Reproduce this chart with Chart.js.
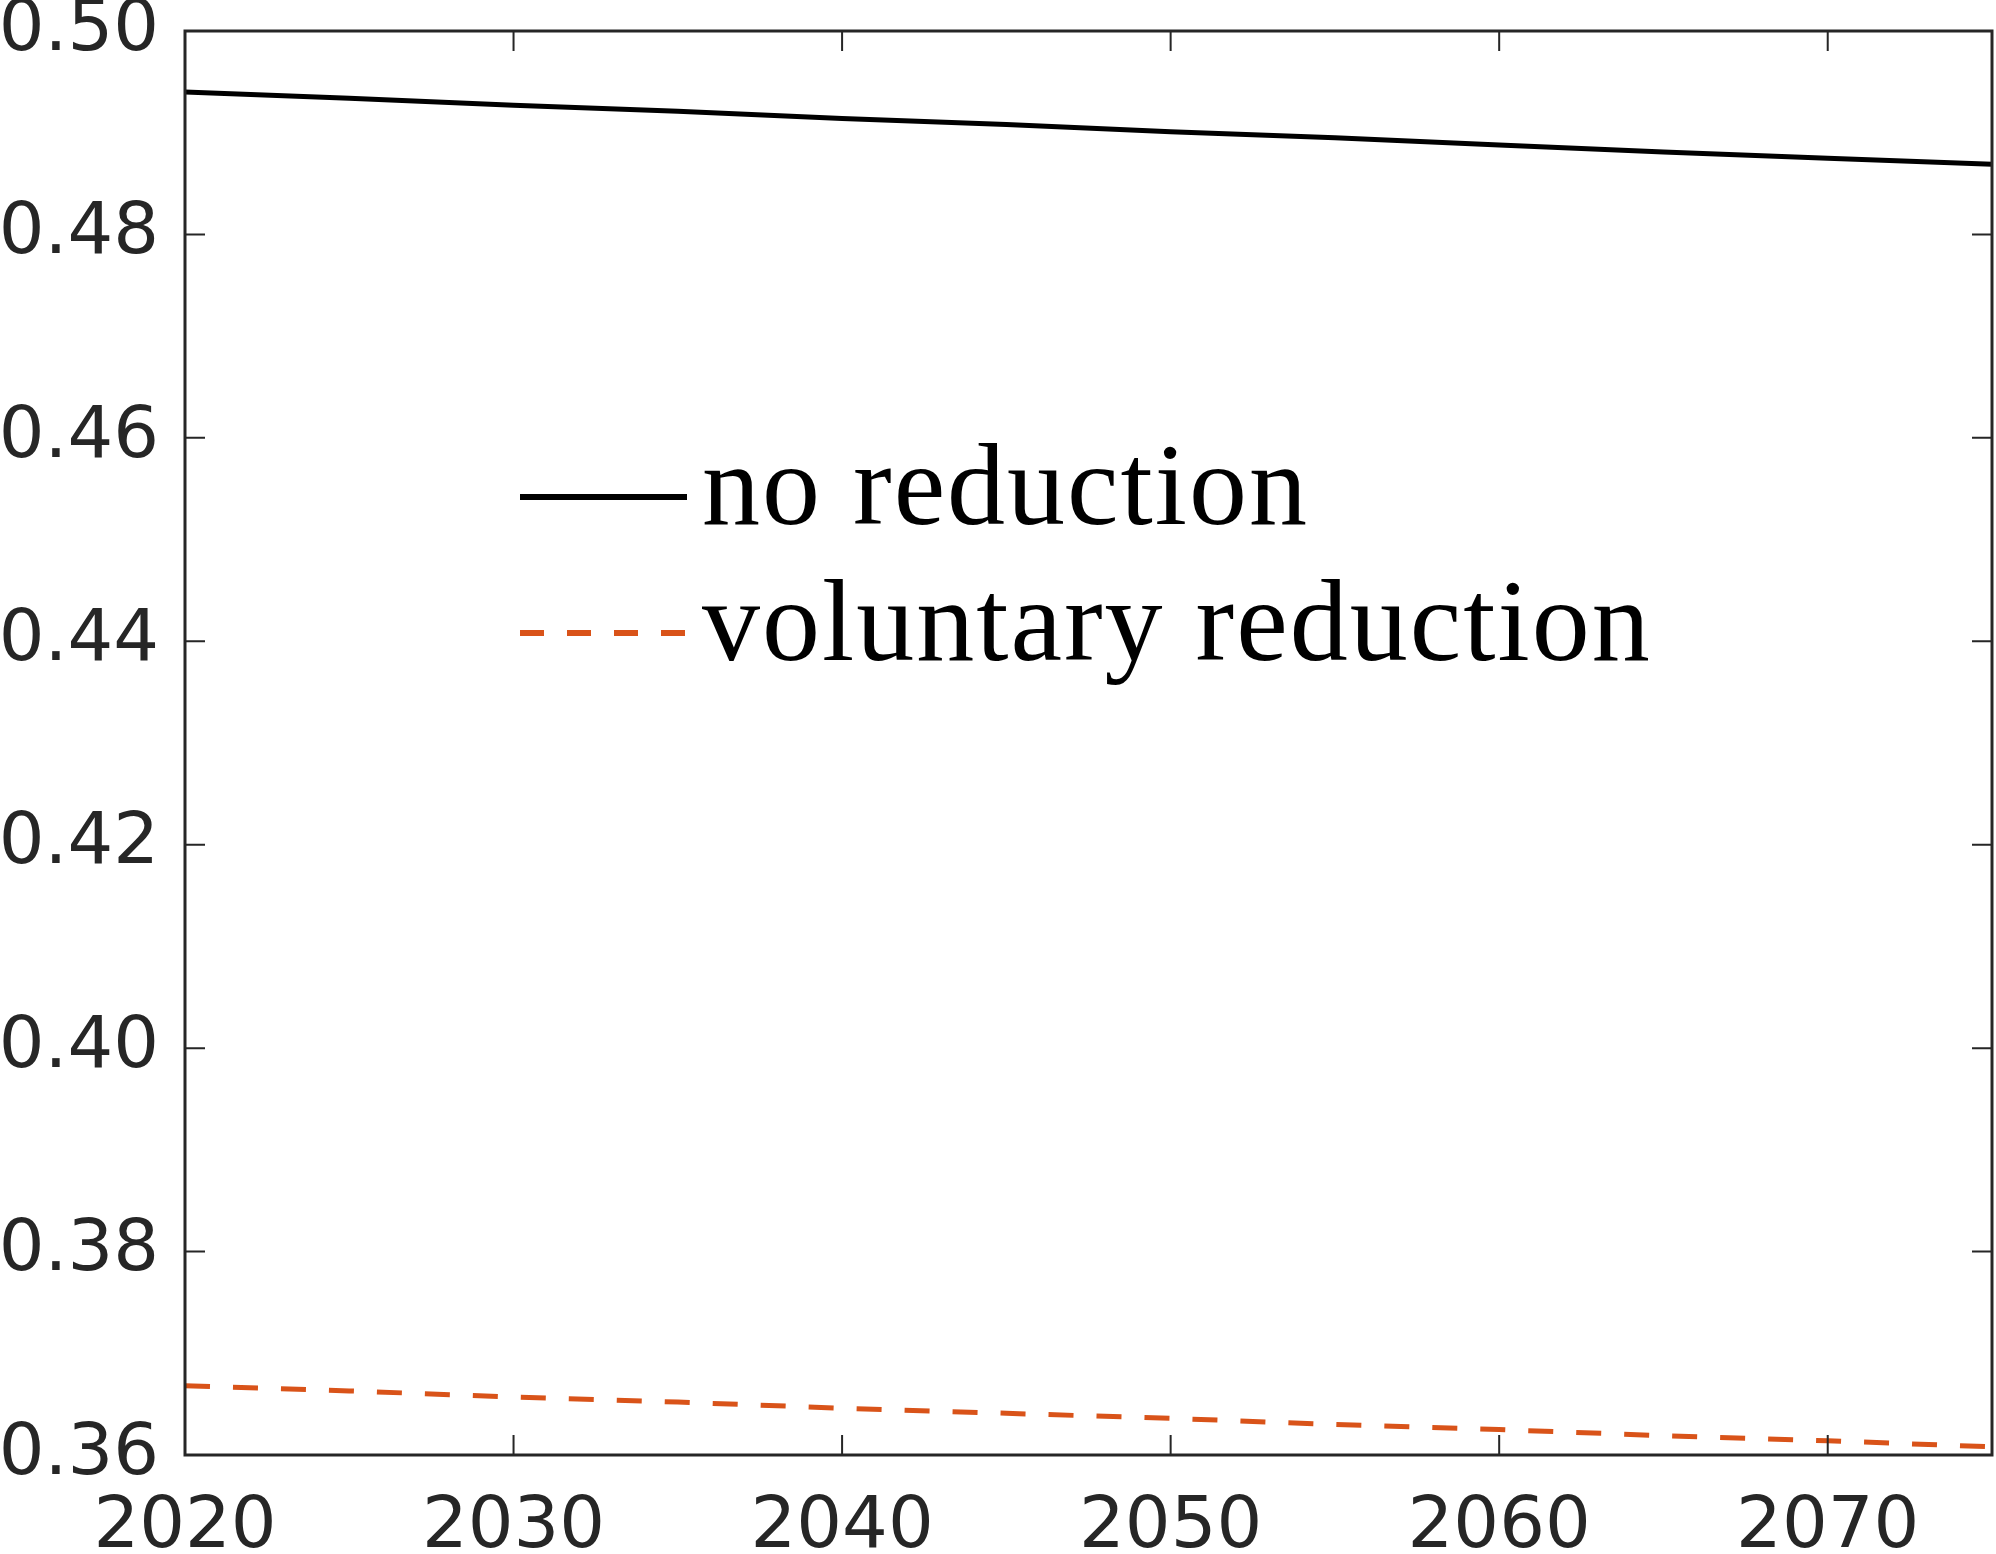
<!DOCTYPE html>
<html>
<head>
<meta charset="utf-8">
<script src="https://cdn.jsdelivr.net/npm/chart.js@4.4.0/dist/chart.umd.min.js"></script>
<style>
  html, body { margin: 0; padding: 0; background: #fff; }
  #chart { display: block; }
</style>
</head>
<body>
<canvas id="chart" width="1996" height="1554"></canvas>
<script>
// Data
const years = [2020, 2025, 2030, 2035, 2040, 2045, 2050, 2055, 2060, 2065, 2070, 2075];
const noReduction = [0.4940, 0.4934, 0.4927, 0.4921, 0.4914, 0.4908, 0.4901, 0.4895, 0.4888, 0.4881, 0.4875, 0.4869];
const voluntaryReduction = [0.3668, 0.3663, 0.3657, 0.3652, 0.3646, 0.3641, 0.3636, 0.3630, 0.3625, 0.3619, 0.3614, 0.3608];
const seriesLabels = ['no reduction', 'voluntary reduction'];
const xTicks = [2020, 2030, 2040, 2050, 2060, 2070];
const yTicks = [0.36, 0.38, 0.40, 0.42, 0.44, 0.46, 0.48, 0.50];

const axisColor = '#262626';

function toPoints(xs, ys) {
    return xs.map(function(x, i) { return { x: x, y: ys[i] }; });
}

// Box around the plot plus MATLAB-style inward ticks on all four sides
const boxPlugin = {
    id: 'box',
    afterDraw: function(chart) {
        const ctx = chart.ctx;
        const a = chart.chartArea;
        const xs = chart.scales.x;
        const ys = chart.scales.y;
        const len = 20;
        ctx.save();
        ctx.strokeStyle = axisColor;
        ctx.lineWidth = 2;
        ctx.beginPath();
        xTicks.forEach(function(v) {
            const px = xs.getPixelForValue(v);
            ctx.moveTo(px, a.bottom); ctx.lineTo(px, a.bottom - len);
            ctx.moveTo(px, a.top); ctx.lineTo(px, a.top + len);
        });
        yTicks.forEach(function(v) {
            const py = ys.getPixelForValue(v);
            ctx.moveTo(a.left, py); ctx.lineTo(a.left + len, py);
            ctx.moveTo(a.right, py); ctx.lineTo(a.right - len, py);
        });
        ctx.stroke();
        ctx.lineWidth = 3;
        ctx.strokeRect(a.left, a.top, a.right - a.left, a.bottom - a.top);
        ctx.restore();
    }
};

// Legend drawn inside the plot area
const legendPlugin = {
    id: 'insideLegend',
    afterDatasetsDraw: function(chart) {
        const ctx = chart.ctx;
        const a = chart.chartArea;
        const x0 = a.left + 335;
        const x1 = a.left + 502;
        const tx = a.left + 517;
        const rows = [a.top + 466, a.top + 602];
        ctx.save();
        chart.data.datasets.forEach(function(ds, i) {
            const y = rows[i];
            ctx.strokeStyle = ds.borderColor;
            ctx.lineWidth = 6;
            ctx.setLineDash(i === 1 ? [24, 23] : []);
            ctx.beginPath();
            ctx.moveTo(x0, y);
            ctx.lineTo(x1, y);
            ctx.stroke();
            ctx.setLineDash([]);
            ctx.fillStyle = '#000';
            ctx.font = '116px "Liberation Serif", "DejaVu Serif", serif';
            ctx.letterSpacing = '2px';
            ctx.textBaseline = 'alphabetic';
            ctx.textAlign = 'left';
            ctx.fillText(ds.label, tx, y + 27);
        });
        ctx.restore();
    }
};

const ctx = document.getElementById('chart').getContext('2d');
const chart = new Chart(ctx, {
    type: 'line',
    data: {
        datasets: [{
            label: seriesLabels[0],
            data: toPoints(years, noReduction),
            borderColor: '#000000',
            borderWidth: 5,
            pointRadius: 0,
            tension: 0,
            fill: false
        }, {
            label: seriesLabels[1],
            data: toPoints(years, voluntaryReduction),
            borderColor: '#D95319',
            borderWidth: 5,
            borderDash: [25, 23],
            pointRadius: 0,
            tension: 0,
            fill: false
        }]
    },
    options: {
        responsive: false,
        devicePixelRatio: 1,
        animation: false,
        layout: { padding: { top: 31, right: 4, left: 0, bottom: 0 } },
        plugins: {
            legend: { display: false },
            tooltip: { enabled: false }
        },
        scales: {
            x: {
                type: 'linear',
                min: 2020,
                max: 2075,
                afterBuildTicks: function(scale) {
                    scale.ticks = xTicks.map(function(v) { return { value: v }; });
                },
                afterFit: function(scale) {
                    scale.height = 99;
                    scale.paddingLeft = 0;
                    scale.paddingRight = 0;
                },
                grid: { display: false, drawTicks: false },
                border: { display: false },
                ticks: {
                    padding: 30,
                    color: axisColor,
                    maxRotation: 0,
                    font: { family: '"DejaVu Sans"', size: 72 },
                    callback: function(v) { return String(v); }
                }
            },
            y: {
                min: 0.36,
                max: 0.50,
                afterBuildTicks: function(scale) {
                    scale.ticks = yTicks.map(function(v) { return { value: v }; });
                },
                afterFit: function(scale) {
                    scale.width = 185;
                    scale.paddingTop = 0;
                    scale.paddingBottom = 0;
                },
                grid: { display: false, drawTicks: false },
                border: { display: false },
                ticks: {
                    padding: 26,
                    color: axisColor,
                    font: { family: '"DejaVu Sans"', size: 72 },
                    callback: function(v) { return Number(v).toFixed(2); }
                }
            }
        }
    },
    plugins: [boxPlugin, legendPlugin]
});
</script>
</body>
</html>
